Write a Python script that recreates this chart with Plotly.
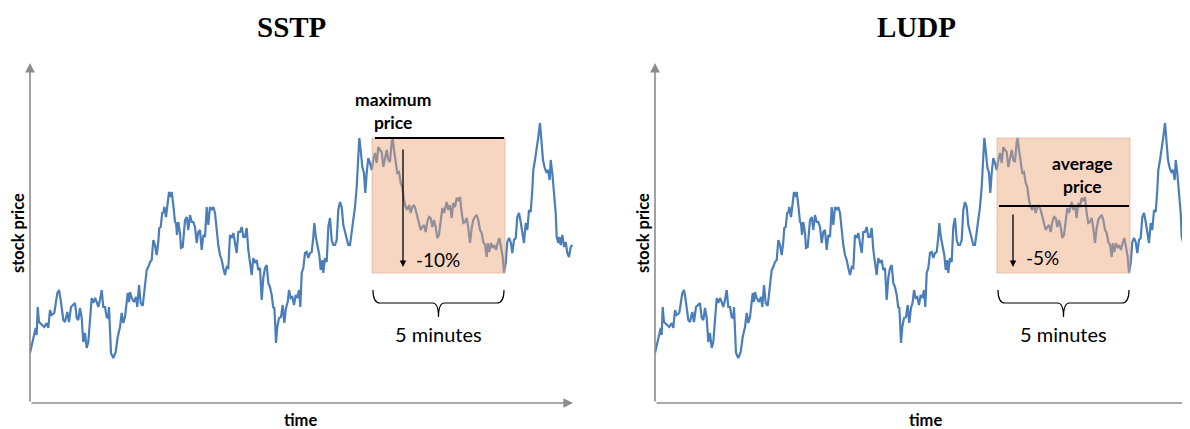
import plotly.graph_objects as go

# ---- data: stock price path (time in arbitrary units, price in arbitrary units)
time = [
    0, 3.3, 5.7, 6.7, 7.7, 9, 11.7, 14.3, 16.7, 18.3,
    20, 21.7, 24.3, 25.7, 27.3, 29, 30.7, 33.3, 35, 37.3,
    39, 41, 43.3, 45, 46.7, 48.3, 50, 51.7, 53.3, 55,
    56.7, 58.3, 60, 61.7, 63.3, 65, 66.7, 68.3, 70, 71.7,
    73.3, 75, 76.7, 78.3, 79, 81, 83.3, 85.7, 87.7, 90,
    91.7, 93.3, 95, 97.7, 99,
    100, 101.7, 104, 106, 107.3, 109, 110.7, 112.7, 115, 116.7,
    118.3, 120, 121.7, 123.3, 125, 126.7, 128.3, 129.3, 130.7, 132.3,
    133.3, 134.3, 136, 137.3, 139, 140, 141.7, 143.3, 145, 146,
    147, 148.3, 150, 151, 152.7, 155, 156.7, 158.3, 160, 161.7,
    163.3, 165, 166.7, 168.3, 170, 171.7, 173.3, 175, 176.7, 178.3,
    180, 181.7, 183.3, 185, 186.7, 188.3, 190, 191.7, 193.3, 195,
    196.7, 198.3, 200, 201.7, 203.3, 205, 206.7,
    208.3, 210, 211.7, 213.3, 215, 216.7, 218.3, 220, 221.7, 223.3,
    225, 226.7, 228.3, 230, 231.7, 233.3, 235, 236.7, 238.3, 240,
    241.7, 243.3, 244.3, 245, 246, 247.3, 249, 251, 252.7, 254.3,
    256, 257.7, 259, 260.7, 262.3, 264, 265.7, 267.3, 269, 270.3,
    271.7, 273.3, 275, 276.7, 278.3, 280, 281.7, 283.3, 284.3, 286,
    287.7, 289.3, 290.7, 292.3, 293.3, 295, 296.7, 298.3, 300, 301.7,
    303.3, 305, 306.7, 308.3, 310, 311.7, 313.3,
    316.7, 318.3, 320, 321.7, 323.3, 325, 326.7, 328.3, 329.3, 330.7,
    332.3, 334, 335.3, 336.7, 338.3, 340, 341.7, 343.3, 345, 346.7,
    348.3, 350, 351.7, 353.3, 355, 356.7, 358.3, 360, 361.7, 362.7,
    364, 365.7, 367.3, 369, 370.7, 372.3, 374, 375.7, 377.3, 379,
    380.7, 382.3, 384, 385.7, 387.3, 389, 390.7, 392.3, 394, 395.7,
    397.3, 399, 400.7, 402.3, 404, 405.7, 407.3, 409, 410.7, 412.3,
    414,
    416.7, 418.3, 420, 421.7, 423.3, 425, 426.7, 428.3, 430, 431.7,
    433.3, 435, 436.7, 438.3, 440, 441.7, 443.3, 445, 446.7, 448.3,
    450, 451.7, 453.3, 455, 456.7, 457.7, 459.3, 461, 462.7, 464.3,
    466, 467.7, 469.3, 471, 472.7, 474, 475.7, 477.3, 479, 480.7,
    482.3, 484, 485.7, 487.3, 489, 490.7, 492.3, 494, 495.7, 497.3,
    499, 500.7, 502.3, 503.3, 505, 506.7, 508.3, 510, 511.7, 513,
    514.7, 516.3, 518, 519.7, 520.7, 522.3, 524, 525.7, 526.7, 528.3,
    529.3, 530.7, 532.3, 534, 535.7, 537.3, 539, 540.7, 542.3,
]
price = [
    50, 63, 75, 68, 96, 81, 78, 76, 80, 75,
    93, 88, 90, 98, 110, 113, 103, 83, 81, 91,
    81, 96, 98, 100, 85, 83, 95, 85, 61, 70,
    55, 61, 83, 105, 100, 105, 101, 96, 103, 113,
    96, 96, 86, 85, 96, 50, 45, 51, 66, 76,
    90, 80, 86, 110, 101,
    111, 105, 101, 106, 96, 118, 100, 97, 120, 133,
    136, 141, 143, 163, 158, 148, 161, 175, 176, 191,
    190, 196, 186, 200, 211, 206, 211, 198, 181, 180,
    168, 181, 170, 155, 156, 183, 186, 173, 188, 181,
    181, 176, 160, 171, 173, 153, 168, 166, 196, 178,
    196, 193, 196, 190, 170, 158, 148, 143, 135, 128,
    136, 135, 168, 165, 170, 158, 150,
    171, 171, 176, 166, 166, 175, 153, 138, 128, 145,
    140, 143, 133, 135, 103, 125, 135, 138, 120, 116,
    108, 95, 96, 83, 60, 76, 85, 86, 98, 80,
    95, 101, 113, 105, 106, 98, 108, 105, 113, 96,
    130, 135, 150, 151, 145, 150, 151, 166, 180, 165,
    156, 148, 133, 143, 130, 145, 141, 176, 185, 163,
    158, 158, 163, 193, 201, 196, 178,
    166, 158, 158, 170, 183, 196, 216, 243, 265, 253,
    236, 230, 210, 230, 245, 240, 233, 243, 250, 240,
    256, 253, 251, 236, 245, 253, 243, 241, 261, 265,
    253, 240, 230, 231, 220, 216, 203, 196, 193, 198,
    190, 196, 198, 193, 186, 180, 173, 176, 178, 171,
    181, 186, 185, 176, 183, 176, 165, 168, 186, 195,
    190,
    201, 193, 198, 185, 200, 196, 205, 203, 206, 190,
    180, 181, 185, 175, 160, 175, 183, 186, 188, 183,
    173, 170, 161, 158, 146, 160, 151, 160, 155, 158,
    153, 160, 165, 156, 146, 130, 140, 161, 165, 161,
    150, 163, 165, 186, 190, 181, 168, 160, 180, 173,
    193, 191, 213, 233, 243, 253, 266, 280, 263, 243,
    235, 231, 233, 223, 243, 230, 210, 190, 166, 160,
    166, 158, 168, 156, 161, 150, 146, 156, 158,
]

panel_titles = ["SSTP", "LUDP"]
window = [342, 475]          # 5-minute window (time units)
window_label = "5 minutes"
max_price = 265              # reference level, SSTP
avg_price = 197              # reference level, LUDP
drop_labels = ["-10%", "-5%"]
level_labels = ["maximum<br>price", "average<br>price"]

OFF = 8                      # default page body margin
W, H = 1190 - OFF, 429 - OFF
LINE = "#4a7ebb"
AXIS = "#8c8c8c"
BOX_FILL = "rgba(236,165,115,0.45)"
LABEL_FONT = "Lato, 'Open Sans', sans-serif"
TITLE_FONT = "'Liberation Serif', 'Times New Roman', serif"


def px_x(v):
    return (v - OFF) / W


def px_y(v):
    return 1 - (v - OFF) / H


fig = go.Figure()
for i in range(2):
    sfx = "" if i == 0 else "2"
    fig.add_trace(go.Scatter(
        x=time, y=price, mode="lines",
        line=dict(color=LINE, width=2.2),
        xaxis="x" + sfx, yaxis="y" + sfx, showlegend=False, hoverinfo="skip",
    ))

ydom = [px_y(403), px_y(63)]
axis_common = dict(showgrid=False, zeroline=False, showticklabels=False,
                   showline=False, ticks="", fixedrange=True)
fig.update_layout(
    width=W, height=H,
    margin=dict(l=0, r=0, t=0, b=0),
    paper_bgcolor="white", plot_bgcolor="white",
    xaxis=dict(domain=[px_x(30), px_x(573)], range=[0, 543], **axis_common),
    yaxis=dict(domain=ydom, range=[0, 340], **axis_common),
    xaxis2=dict(domain=[px_x(655), 1.0], range=[0, 535], anchor="y2", **axis_common),
    yaxis2=dict(domain=ydom, range=[0, 340], anchor="x2", **axis_common),
)

shapes = []
annotations = []
x_ends = [543, 539]
for i in range(2):
    xr = "x" if i == 0 else "x2"
    yr = "y" if i == 0 else "y2"
    w0, w1 = window
    in_win = [p for t, p in zip(time, price) if w0 <= t <= w1]
    top, bottom = max(in_win), min(in_win)
    # highlighted window box
    shapes.append(dict(type="rect", xref=xr, yref=yr, x0=w0, x1=w1, y0=bottom, y1=top,
                       fillcolor=BOX_FILL, line=dict(color="rgba(215,170,135,0.6)", width=1),
                       layer="above"))
    # reference level line
    lvl = max_price if i == 0 else avg_price
    shapes.append(dict(type="line", xref=xr, yref=yr, x0=w0 + (3 if i == 0 else 2), x1=w1 - 1,
                       y0=lvl, y1=lvl, line=dict(color="black", width=2), layer="above"))
    # brace under the window
    mid = (w0 + w1) / 2
    b_top, b_mid, b_tip = 113, 100, 86
    path = (f"M {w0+1},{b_top} Q {w0+1},{b_mid} {w0+8},{b_mid} L {mid-6},{b_mid} "
            f"Q {mid},{b_mid} {mid},{b_tip} Q {mid},{b_mid} {mid+6},{b_mid} "
            f"L {w1-8},{b_mid} Q {w1-1},{b_mid} {w1-1},{b_top}")
    shapes.append(dict(type="path", xref=xr, yref=yr, path=path,
                       line=dict(color="black", width=1.2)))
    annotations.append(dict(xref=xr, yref=yr, x=mid, y=69, text=window_label, showarrow=False,
                            xanchor="center", yanchor="middle",
                            font=dict(family=LABEL_FONT, size=20, color="black")))
    # axes with arrows
    annotations.append(dict(xref=xr, yref=yr, x=x_ends[i], y=0, ax=0, ay=0, axref=xr, ayref=yr,
                            text="", showarrow=True, arrowhead=2, arrowsize=1.2,
                            arrowwidth=1.6, arrowcolor=AXIS, standoff=0))
    annotations.append(dict(xref=xr, yref=yr, x=0, y=340, ax=0, ay=0, axref=xr, ayref=yr,
                            text="", showarrow=True, arrowhead=2, arrowsize=1.2,
                            arrowwidth=1.6, arrowcolor=AXIS, standoff=0))
    # drop arrow
    ax_t = 373 if i == 0 else 358
    ay_p = 255 if i == 0 else 190
    annotations.append(dict(xref=xr, yref=yr, x=ax_t, y=bottom + 6, ax=ax_t, ay=ay_p,
                            axref=xr, ayref=yr, text="", showarrow=True, arrowhead=2,
                            arrowsize=1, arrowwidth=1.3, arrowcolor="black", standoff=0))
    annotations.append(dict(xref=xr, yref=yr, x=408 if i == 0 else 387, y=144 if i == 0 else 146,
                            text=drop_labels[i], showarrow=False,
                            xanchor="center", yanchor="middle",
                            font=dict(family=LABEL_FONT, size=19, color="black")))
    annotations.append(dict(xref=xr, yref=yr, x=363 if i == 0 else 427, y=292 if i == 0 else 228,
                            text=f"<b>{level_labels[i]}</b>", showarrow=False,
                            xanchor="center", yanchor="middle",
                            font=dict(family=LABEL_FONT, size=17.5, color="black")))
    # axis titles and panel titles
    annotations.append(dict(xref=xr, yref="paper", x=270, y=px_y(420), text="<b>time</b>",
                            showarrow=False, xanchor="center", yanchor="middle",
                            font=dict(family=LABEL_FONT, size=16.5, color="black")))
    annotations.append(dict(xref="paper", yref="paper", x=px_x(18 if i == 0 else 643),
                            y=px_y(233), text="<b>stock price</b>", textangle=-90,
                            showarrow=False, xanchor="center", yanchor="middle",
                            font=dict(family=LABEL_FONT, size=16.5, color="black")))
    annotations.append(dict(xref=xr, yref="paper", x=261, y=px_y(27),
                            text=f"<b>{panel_titles[i]}</b>", showarrow=False,
                            xanchor="center", yanchor="middle",
                            font=dict(family=TITLE_FONT, size=29, color="black")))

fig.update_layout(shapes=shapes, annotations=annotations)
fig.write_html("out.html")
